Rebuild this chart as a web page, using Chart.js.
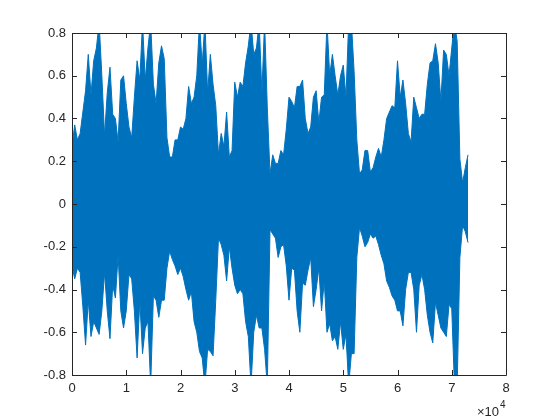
<!DOCTYPE html>
<html>
<head>
<meta charset="utf-8">
<script src="https://cdn.jsdelivr.net/npm/chart.js@4"></script>
<style>html,body{margin:0;padding:0;background:#fff}</style>
</head>
<body>
<canvas id="myChart" width="560" height="420"></canvas>
<script>
// waveform envelope, one value per 500 samples
const sampleStep = 500;
const upper = [0.27, 0.37, 0.30, 0.33, 0.43, 0.53, 0.70, 0.51, 0.67, 0.73,
    0.85, 0.60, 0.32, 0.52, 0.64, 0.42, 0.40, 0.29, 0.58, 0.60,
    0.47, 0.36, 0.31, 0.50, 0.67, 0.58, 0.85, 0.58, 0.73, 0.85,
    0.56, 0.47, 0.66, 0.74, 0.68, 0.31, 0.22, 0.22, 0.30, 0.30,
    0.36, 0.35, 0.40, 0.55, 0.47, 0.50, 0.60, 0.85, 0.65, 0.85,
    0.52, 0.70, 0.56, 0.46, 0.23, 0.33, 0.27, 0.43, 0.22, 0.25,
    0.57, 0.50, 0.57, 0.55, 0.66, 0.74, 0.85, 0.70, 0.73, 0.85,
    0.52, 0.85, 0.45, 0.14, 0.23, 0.19, 0.19, 0.25, 0.23, 0.35,
    0.50, 0.48, 0.45, 0.55, 0.55, 0.58, 0.40, 0.33, 0.36, 0.50,
    0.53, 0.38, 0.50, 0.51, 0.85, 0.60, 0.70, 0.60, 0.51, 0.60,
    0.65, 0.50, 0.85, 0.85, 0.62, 0.30, 0.14, 0.16, 0.25, 0.25,
    0.15, 0.17, 0.22, 0.26, 0.22, 0.30, 0.40, 0.43, 0.46, 0.45,
    0.67, 0.50, 0.58, 0.47, 0.33, 0.29, 0.50, 0.45, 0.40, 0.42,
    0.42, 0.56, 0.66, 0.67, 0.75, 0.66, 0.48, 0.72, 0.70, 0.60,
    0.73, 0.85, 0.76, 0.21, 0.10, 0.17, 0.23];
const lower = [-0.29, -0.35, -0.30, -0.32, -0.48, -0.66, -0.45, -0.62, -0.55, -0.58,
    -0.61, -0.50, -0.32, -0.50, -0.63, -0.38, -0.44, -0.24, -0.50, -0.58,
    -0.50, -0.33, -0.35, -0.50, -0.72, -0.45, -0.70, -0.58, -0.55, -0.85,
    -0.43, -0.45, -0.53, -0.45, -0.45, -0.30, -0.22, -0.26, -0.29, -0.33,
    -0.30, -0.34, -0.40, -0.45, -0.41, -0.55, -0.60, -0.69, -0.72, -0.85,
    -0.68, -0.69, -0.71, -0.45, -0.16, -0.19, -0.24, -0.36, -0.20, -0.30,
    -0.38, -0.42, -0.40, -0.42, -0.55, -0.62, -0.85, -0.60, -0.52, -0.58,
    -0.58, -0.68, -0.85, -0.12, -0.14, -0.16, -0.25, -0.20, -0.19, -0.29,
    -0.45, -0.30, -0.31, -0.50, -0.60, -0.37, -0.38, -0.31, -0.25, -0.48,
    -0.40, -0.30, -0.50, -0.36, -0.60, -0.56, -0.64, -0.62, -0.68, -0.55,
    -0.68, -0.61, -0.85, -0.70, -0.70, -0.25, -0.11, -0.15, -0.20, -0.18,
    -0.14, -0.16, -0.15, -0.19, -0.24, -0.28, -0.36, -0.39, -0.43, -0.45,
    -0.50, -0.50, -0.57, -0.40, -0.32, -0.32, -0.40, -0.60, -0.38, -0.33,
    -0.40, -0.52, -0.60, -0.65, -0.46, -0.52, -0.58, -0.60, -0.62, -0.47,
    -0.49, -0.85, -0.85, -0.25, -0.10, -0.13, -0.18];
const xTicks = [0, 10000, 20000, 30000, 40000, 50000, 60000, 70000, 80000];
const yTicks = [-0.8, -0.6, -0.4, -0.2, 0, 0.2, 0.4, 0.6, 0.8];

const lineColor = '#0072BD';
const axisColor = '#262626';
const font = { family: 'Liberation Sans, Arial, sans-serif', size: 13 };

const toPoints = arr => arr.map((v, i) => ({ x: i * sampleStep, y: v }));

// MATLAB-like box with inward ticks and the x10^4 exponent label
const matlabAxes = {
    id: 'matlabAxes',
    afterDraw(chart) {
        const c = chart.ctx;
        const a = chart.chartArea;
        const xs = chart.scales.x, ys = chart.scales.y;
        const len = 5;
        c.save();
        c.strokeStyle = axisColor;
        c.lineWidth = 1;
        c.beginPath();
        c.rect(Math.round(a.left) + 0.5, Math.round(a.top) + 0.5,
            Math.round(a.right - a.left), Math.round(a.bottom - a.top));
        xTicks.forEach(t => {
            const px = Math.round(xs.getPixelForValue(t)) + 0.5;
            c.moveTo(px, a.bottom); c.lineTo(px, a.bottom - len);
            c.moveTo(px, a.top); c.lineTo(px, a.top + len);
        });
        yTicks.forEach(t => {
            const py = Math.round(ys.getPixelForValue(t)) + 0.5;
            c.moveTo(a.left, py); c.lineTo(a.left + len, py);
            c.moveTo(a.right, py); c.lineTo(a.right - len, py);
        });
        c.stroke();

        c.fillStyle = axisColor;
        c.textBaseline = 'alphabetic';
        c.textAlign = 'left';
        c.font = '13px ' + font.family;
        c.fillText('\u00d710', 477, 416);
        c.font = '10px ' + font.family;
        c.fillText('4', 500, 408);
        c.restore();
    }
};

const ctx = document.getElementById('myChart').getContext('2d');
const chart = new Chart(ctx, {
    type: 'line',
    data: {
        datasets: [{
            data: toPoints(upper),
            borderColor: lineColor,
            backgroundColor: lineColor,
            borderWidth: 1,
            pointRadius: 0,
            tension: 0,
            fill: '+1'
        }, {
            data: toPoints(lower),
            borderColor: lineColor,
            backgroundColor: lineColor,
            borderWidth: 1,
            pointRadius: 0,
            tension: 0,
            fill: false
        }]
    },
    options: {
        responsive: false,
        animation: false,
        layout: { padding: { left: 0, right: 54, top: 33, bottom: 0 } },
        plugins: { legend: { display: false }, tooltip: { enabled: false } },
        scales: {
            x: {
                type: 'linear',
                min: 0,
                max: 80000,
                afterFit: s => { s.height = 45; },
                afterBuildTicks: s => { s.ticks = xTicks.map(v => ({ value: v })); },
                grid: { display: false, drawTicks: false },
                border: { display: false },
                ticks: {
                    color: axisColor,
                    font: font,
                    padding: 6,
                    maxRotation: 0,
                    callback: v => String(v / 10000)
                }
            },
            y: {
                min: -0.8,
                max: 0.8,
                afterFit: s => { s.width = 72; },
                afterBuildTicks: s => { s.ticks = yTicks.map(v => ({ value: v })); },
                grid: { display: false, drawTicks: false },
                border: { display: false },
                ticks: {
                    color: axisColor,
                    font: font,
                    padding: 6,
                    callback: v => String(Math.round(v * 10) / 10)
                }
            }
        }
    },
    plugins: [matlabAxes]
});
</script>
</body>
</html>
